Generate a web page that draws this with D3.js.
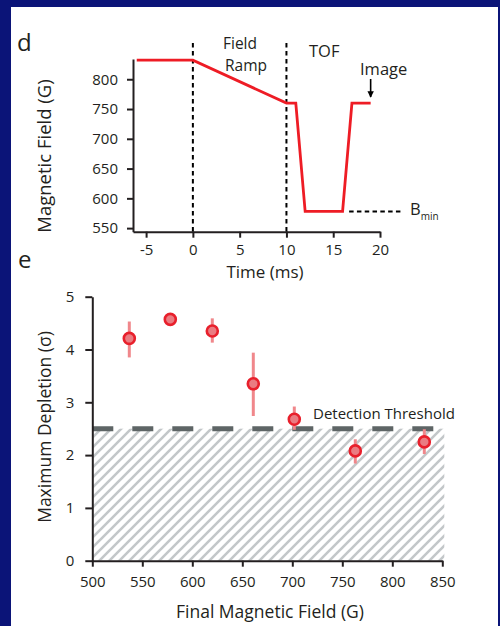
<!DOCTYPE html>
<html>
<head>
<meta charset="utf-8">
<script src="https://cdn.jsdelivr.net/npm/d3@7"></script>
<style>
  body { margin: 0; background: #0b1478; }
  svg { display: block; font-family: "Open Sans", sans-serif; }
  .axis path, .axis line { stroke: #231f20; stroke-width: 2; }
  .axis text { fill: #231f20; font-size: 15px; font-family: "Open Sans", sans-serif; }
  .lbl { fill: #231f20; }
</style>
</head>
<body>
<div id="chart"></div>
<script>
// Panel d: field sequence
const timeMs = [-6, 0, 10, 11, 12, 16, 17, 19]
const fieldG = [832, 832, 760, 760, 578, 578, 760, 760]
const timeTicks = [-5, 0, 5, 10, 15, 20]
const fieldTicks = [550, 600, 650, 700, 750, 800]
const stageTimes = [0, 10]
const bMin = 578
const imageTime = 19

// Panel e: depletion vs final field
const finalField = [537, 578, 620, 661, 702, 763, 832]
const depletion = [4.21, 4.57, 4.35, 3.35, 2.68, 2.08, 2.25]
const errLow = [3.85, 4.52, 4.13, 2.74, 2.48, 1.84, 2.02]
const errHigh = [4.53, 4.62, 4.59, 3.94, 2.92, 2.30, 2.49]
const threshold = 2.5
const finalTicks = [500, 550, 600, 650, 700, 750, 800, 850]
const depletionTicks = [0, 1, 2, 3, 4, 5]

var width = 500
var height = 626

var svg = d3.select('#chart')
  .append('svg')
  .attr('width', width)
  .attr('height', height)

// frame
svg.append('rect').attr('width', width).attr('height', height).attr('fill', '#0b1478')
svg.append('rect').attr('x', 11).attr('y', 7).attr('width', 487).attr('height', height - 7).attr('fill', '#fff')

// hatch pattern
var defs = svg.append('defs')
var pat = defs.append('pattern')
  .attr('id', 'hatch')
  .attr('patternUnits', 'userSpaceOnUse')
  .attr('width', 10).attr('height', 10)
pat.append('path')
  .attr('d', 'M-2,12 L12,-2 M-7,7 L7,-7 M3,17 L17,3')
  .attr('stroke', '#c3c7c9')
  .attr('stroke-width', 2.6)

// ---------- panel d ----------
const xD = d3.scaleLinear().domain([-6.4, 20]).range([133, 380])
const yD = d3.scaleLinear().domain([544, 834]).range([231.7, 59])

svg.append('text').attr('class', 'lbl').attr('x', 17).attr('y', 51)
  .style('font-size', '24px').text('d')

svg.append('g').attr('class', 'axis')
  .attr('transform', `translate(0, ${yD.range()[0]})`)
  .call(d3.axisBottom(xD).tickValues(timeTicks).tickSize(6).tickSizeOuter(0).tickPadding(7)
    .tickFormat(d => d < 0 ? '-' + Math.abs(d) : d))

svg.append('g').attr('class', 'axis')
  .attr('transform', `translate(${xD.range()[0]}, 0)`)
  .call(d3.axisLeft(yD).tickValues(fieldTicks).tickSize(6).tickSizeOuter(0).tickPadding(9))

svg.append('text').attr('class', 'lbl')
  .attr('x', 265).attr('y', 278).attr('text-anchor', 'middle')
  .style('font-size', '17px').text('Time (ms)')

svg.append('text').attr('class', 'lbl')
  .attr('transform', 'translate(51, 156) rotate(-90)')
  .attr('text-anchor', 'middle')
  .style('font-size', '18.5px').text('Magnetic Field (G)')

// stage separators
svg.selectAll('.stage')
  .data(stageTimes)
  .enter()
  .append('line')
  .attr('x1', d => xD(d)).attr('x2', d => xD(d))
  .attr('y1', 43).attr('y2', yD.range()[0])
  .attr('stroke', '#000').attr('stroke-width', 2)
  .attr('stroke-dasharray', '4.5,3.5')

// B_min guide
svg.append('line')
  .attr('x1', xD(16.7)).attr('x2', xD(22.5))
  .attr('y1', yD(bMin)).attr('y2', yD(bMin))
  .attr('stroke', '#000').attr('stroke-width', 2)
  .attr('stroke-dasharray', '4.5,3.3')

var bLabel = svg.append('text').attr('class', 'lbl')
  .attr('x', 410).attr('y', yD(bMin) + 4).style('font-size', '16.5px')
bLabel.append('tspan').text('B')
bLabel.append('tspan').attr('dy', 5).style('font-size', '10px').text('min')

// field profile
svg.append('path')
  .datum(timeMs.map((t, i) => [t, fieldG[i]]))
  .attr('fill', 'none')
  .attr('stroke', '#ee1c25')
  .attr('stroke-width', 2.8)
  .attr('d', d3.line().x(d => xD(d[0])).y(d => yD(d[1])))

// stage labels
svg.append('text').attr('class', 'lbl').attr('x', 223).attr('y', 49)
  .style('font-size', '15.5px').text('Field')
svg.append('text').attr('class', 'lbl').attr('x', 225).attr('y', 71)
  .style('font-size', '15.5px').text('Ramp')
svg.append('text').attr('class', 'lbl').attr('x', 309).attr('y', 57)
  .style('font-size', '16.5px').text('TOF')
svg.append('text').attr('class', 'lbl').attr('x', 360).attr('y', 75)
  .style('font-size', '16.5px').text('Image')

// image arrow
defs.append('marker')
  .attr('id', 'arrow')
  .attr('viewBox', '0 0 10 10')
  .attr('refX', 9).attr('refY', 5)
  .attr('markerWidth', 4).attr('markerHeight', 4)
  .attr('orient', 'auto')
  .append('path').attr('d', 'M0,0 L10,5 L0,10 z').attr('fill', '#000')

svg.append('line')
  .attr('x1', xD(imageTime)).attr('x2', xD(imageTime))
  .attr('y1', 79).attr('y2', 97)
  .attr('stroke', '#000').attr('stroke-width', 1.6)
  .attr('marker-end', 'url(#arrow)')

// ---------- panel e ----------
const xE = d3.scaleLinear().domain([500, 850]).range([92.3, 442.3])
const yE = d3.scaleLinear().domain([0, 5]).range([560.7, 296.7])

svg.append('text').attr('class', 'lbl').attr('x', 18).attr('y', 268)
  .style('font-size', '24px').text('e')

// below-threshold hatched band
svg.append('rect')
  .attr('x', xE(500)).attr('y', yE(threshold))
  .attr('width', xE(850) - xE(500) + 2)
  .attr('height', yE(0) - yE(threshold))
  .attr('fill', 'url(#hatch)')

svg.append('line')
  .attr('x1', xE(500)).attr('x2', xE(850))
  .attr('y1', yE(threshold)).attr('y2', yE(threshold))
  .attr('stroke', '#5e6566').attr('stroke-width', 5)
  .attr('stroke-dasharray', '21,19')

svg.append('text').attr('class', 'lbl')
  .attr('x', 313).attr('y', 419).style('font-size', '15px')
  .text('Detection Threshold')

svg.append('g').attr('class', 'axis')
  .attr('transform', `translate(0, ${yE(0)})`)
  .call(d3.axisBottom(xE).tickValues(finalTicks).tickSize(6).tickSizeOuter(0).tickPadding(10))

svg.append('g').attr('class', 'axis')
  .attr('transform', `translate(${xE(500)}, 0)`)
  .call(d3.axisLeft(yE).tickValues(depletionTicks).tickSize(7).tickSizeOuter(0).tickPadding(11)
    .tickFormat(d3.format('d')))

svg.append('text').attr('class', 'lbl')
  .attr('x', 270).attr('y', 618).attr('text-anchor', 'middle')
  .style('font-size', '17.5px').text('Final Magnetic Field (G)')

svg.append('text').attr('class', 'lbl')
  .attr('transform', 'translate(51, 427) rotate(-90)')
  .attr('text-anchor', 'middle')
  .style('font-size', '17.5px').text('Maximum Depletion (σ)')

// error bars
svg.selectAll('.err')
  .data(finalField)
  .enter()
  .append('line')
  .attr('x1', d => xE(d)).attr('x2', d => xE(d))
  .attr('y1', (d, i) => yE(errLow[i]))
  .attr('y2', (d, i) => yE(errHigh[i]))
  .attr('stroke', '#f0878b').attr('stroke-width', 3)

// points
svg.selectAll('.pt')
  .data(finalField)
  .enter()
  .append('circle')
  .attr('cx', d => xE(d))
  .attr('cy', (d, i) => yE(depletion[i]))
  .attr('r', 5.5)
  .attr('fill', '#ea7c82')
  .attr('stroke', '#e8202c')
  .attr('stroke-width', 2.6)
</script>
</body>
</html>
